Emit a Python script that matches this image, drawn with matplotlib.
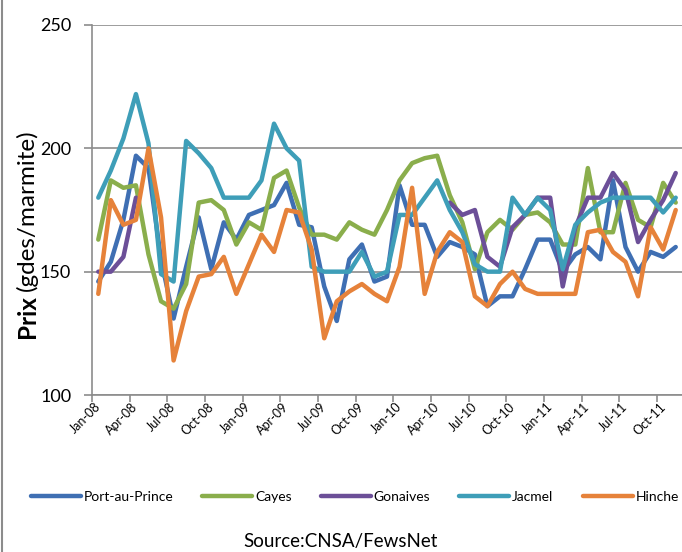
import numpy as np
import matplotlib.pyplot as plt
from matplotlib.lines import Line2D

plt.rcParams['font.family'] = ['Lato', 'DejaVu Sans']

# monthly categories, Jan-08 .. Nov-11
month_names = ['Jan', 'Feb', 'Mar', 'Apr', 'May', 'Jun',
               'Jul', 'Aug', 'Sep', 'Oct', 'Nov', 'Dec']
months = [f'{m}-{y}' for y in ['08', '09', '10', '11'] for m in month_names][:47]

nan = np.nan
port_au_prince = [146, 154, 171, 197, 192, 155, 131, 152, 172, 151, 170, 163,
                  173, 175, 177, 186, 169, 168, 144, 130, 155, 161, 146, 148,
                  185, 169, 169, 156, 162, 160, 157, 136, 140, 140, 151, 163,
                  163, 150, 157, 160, 155, 187, 160, 150, 158, 156, 160]
cayes = [163, 187, 184, 185, 157, 138, 135, 145, 178, 179, 175, 161,
         170, 167, 188, 191, 176, 165, 165, 163, 170, 167, 165, 175,
         187, 194, 196, 197, 181, 170, 151, 166, 171, 167, 173, 174,
         170, 161, 161, 192, 166, 166, 186, 171, 168, 186, 178]
gonaives = [150, 150, 156, 180, nan, nan, nan, nan, nan, nan, nan, nan,
            nan, nan, nan, nan, nan, nan, nan, nan, nan, nan, nan, nan,
            nan, nan, nan, nan, 178, 173, 175, 156, 152, 168, 173, 180,
            180, 144, 168, 180, 180, 190, 183, 162, 171, 179, 190]
jacmel = [180, 191, 204, 222, 202, 149, 146, 203, 198, 192, 180, 180,
          180, 187, 210, 200, 195, 152, 150, 150, 150, 158, 148, 150,
          173, 173, 180, 187, 175, 166, 153, 150, 150, 180, 173, 180,
          175, 151, 169, 174, 178, 180, 180, 180, 180, 174, 180]
hinche = [141, 179, 169, 171, 200, 172, 114, 134, 148, 149, 156, 141,
          153, 165, 158, 175, 174, 159, 123, 138, 142, 145, 141, 138,
          152, 184, 141, 158, 166, 162, 140, 136, 145, 150, 143, 141,
          141, 141, 141, 166, 167, 158, 154, 140, 168, 159, 175]

series = [
    ('Port-au-Prince', port_au_prince, '#3f6fb3'),
    ('Cayes', cayes, '#8aae4c'),
    ('Gonaives', gonaives, '#6c4f98'),
    ('Jacmel', jacmel, '#3e9eb8'),
    ('Hinche', hinche, '#e6823a'),
]

grey = '#8c8c8c'

fig = plt.figure(figsize=(6.82, 5.52), dpi=100)
ax = fig.add_axes([92 / 682, 1 - 395 / 552, 590 / 682, 370 / 552])

x = np.arange(len(months))
for name, vals, col in series:
    ax.plot(x, vals, color=col, lw=3.2, solid_capstyle='round',
            solid_joinstyle='round', label=name)

ax.set_xlim(-0.5, len(months) - 0.5)
ax.set_ylim(100, 250)
ax.set_yticks([100, 150, 200, 250])
ax.yaxis.grid(True, color=grey, lw=1.2)
ax.set_axisbelow(True)
for s in ['top', 'right']:
    ax.spines[s].set_visible(False)
for s in ['left', 'bottom']:
    ax.spines[s].set_color(grey)
    ax.spines[s].set_linewidth(1.2)

ax.tick_params(axis='y', length=6, color=grey, width=1.2, labelsize=13, pad=9)

# tick marks between categories, labels on the categories
ax.set_xticks(np.arange(-0.5, len(months) - 1, 3))
ax.set_xticks(x[::3], minor=True)
ax.set_xticklabels([], minor=False)
ax.set_xticklabels(months[::3], minor=True)
ax.tick_params(axis='x', which='major', length=5, color=grey, width=1.2)
ax.tick_params(axis='x', which='minor', length=0, pad=7, labelsize=9)
for lbl in ax.get_xticklabels(minor=True):
    lbl.set_rotation(45)
    lbl.set_ha('right')
    lbl.set_va('center')
    lbl.set_rotation_mode('anchor')

# y label: bold "Prix" then normal text
t1 = fig.text(0.040, 1 - 338 / 552, 'Prix', rotation=90, fontsize=17.5,
              fontweight='bold', ha='center', va='bottom')
fig.canvas.draw()
bb = t1.get_window_extent(fig.canvas.get_renderer())
fig.text(0.040, (bb.y1 + 4) / fig.dpi / 5.52, '(gdes/marmite)', rotation=90,
         fontsize=17.5, ha='center', va='bottom')

fig.legend(loc='center', bbox_to_anchor=(0.52, 1 - 497 / 552), ncol=5,
           frameon=False, fontsize=10, handlelength=3.6, handletextpad=0.2,
           columnspacing=2.1)

fig.text(341 / 682, 1 - 541 / 552, 'Source:CNSA/FewsNet', ha='center',
         va='center', fontsize=13.5)

fig.add_artist(Line2D([0.003, 0.003], [0, 1], color=grey, lw=1.5))

fig.savefig('out.png', dpi=100)
